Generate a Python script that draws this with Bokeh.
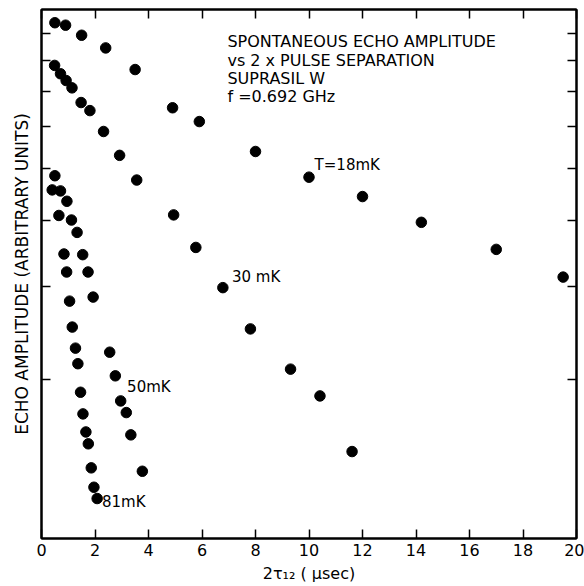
from bokeh.plotting import figure
from bokeh.models import LinearAxis, LogAxis, FixedTicker, Label, Range1d, CustomJSTickFormatter, Title
from bokeh.embed import file_html
from bokeh.resources import INLINE

# ---- data ----
t18_x = [0.5, 0.9, 1.5, 2.4, 3.5, 4.9, 5.9, 8.0, 10.0, 12.0, 14.2, 17.0, 19.5]
t18_y = [9.44, 9.34, 8.94, 8.46, 7.70, 6.52, 6.14, 5.39, 4.82, 4.43, 3.96, 3.52, 3.12]

t30_x = [0.49, 0.71, 0.92, 1.14, 1.48, 1.81, 2.32, 2.92, 3.56, 4.94, 5.77, 6.78, 7.81, 9.31, 10.41, 11.61]
t30_y = [7.84, 7.56, 7.34, 7.11, 6.67, 6.44, 5.88, 5.30, 4.76, 4.09, 3.55, 2.98, 2.49, 2.09, 1.86, 1.46]

t50_x = [0.50, 0.71, 0.95, 1.12, 1.33, 1.54, 1.74, 1.93, 2.55, 2.76, 2.96, 3.17, 3.34, 3.77]
t50_y = [4.85, 4.54, 4.34, 4.00, 3.79, 3.44, 3.19, 2.86, 2.25, 2.03, 1.82, 1.73, 1.57, 1.34]

t81_x = [0.40, 0.65, 0.84, 0.94, 1.05, 1.15, 1.27, 1.36, 1.46, 1.55, 1.66, 1.75, 1.86, 1.96, 2.08]
t81_y = [4.56, 4.08, 3.45, 3.19, 2.81, 2.51, 2.29, 2.14, 1.89, 1.72, 1.59, 1.51, 1.36, 1.25, 1.19]

x_ticks = [0, 2, 4, 6, 8, 10, 12, 14, 16, 18, 20]
y_ticks = [2, 3, 4, 5, 6, 7, 8, 9]

title_lines = ["SPONTANEOUS ECHO AMPLITUDE", "vs  2 x PULSE SEPARATION", "SUPRASIL W", "f =0.692 GHz"]
series_labels = ["T=18mK", "30 mK", "50mK", "81mK"]
x_title = "2\u03c4\u2081\u2082 ( \u03bcsec)"
y_title = "ECHO AMPLITUDE (ARBITRARY UNITS)"

FONT = "DejaVu Sans"

p = figure(width=584, height=586, output_backend="svg", toolbar_location=None,
           x_range=Range1d(0, 20), y_range=Range1d(1, 10), y_axis_type="log",
           x_axis_type=None, y_axis_location=None,
           min_border_left=41, min_border_right=8, min_border_top=9, min_border_bottom=48)
p.background_fill_color = "white"
p.border_fill_color = "white"
p.outline_line_color = "black"
p.outline_line_width = 2
p.xgrid.visible = False
p.ygrid.visible = False

blank = CustomJSTickFormatter(code="return ''")

xb = LinearAxis(ticker=FixedTicker(ticks=x_ticks), axis_label=x_title)
xt = LinearAxis(ticker=FixedTicker(ticks=x_ticks), formatter=blank)
yl = LogAxis(ticker=FixedTicker(ticks=y_ticks), formatter=blank)
yr = LogAxis(ticker=FixedTicker(ticks=y_ticks), formatter=blank)

for ax in (xb, xt, yl, yr):
    ax.major_tick_in = 9
    ax.major_tick_out = 0
    ax.minor_tick_in = 0
    ax.minor_tick_out = 0
    ax.axis_line_color = "black"
    ax.axis_line_width = 2
    ax.major_tick_line_color = "black"
    ax.major_tick_line_width = 1.5
    ax.major_label_text_font = FONT
    ax.major_label_text_color = "black"
    ax.axis_label_text_font = FONT
    ax.axis_label_text_font_style = "normal"
    ax.axis_label_text_color = "black"
    ax.axis_label_text_font_size = "16px"

xb.major_label_text_font_size = "16px"
xb.major_label_standoff = 5
xb.axis_label_standoff = 5
for ax in (xt, yl, yr):
    ax.major_label_text_font_size = "0px"
    ax.major_label_standoff = 0

p.add_layout(xb, "below")
p.add_layout(xt, "above")
p.add_layout(yl, "left")
p.add_layout(yr, "right")

# vertical axis title as a side title
ytitle = Title(text=y_title, align="center", text_font=FONT, text_font_size="17px",
               text_font_style="normal", text_color="black", standoff=19, offset=10)
p.add_layout(ytitle, "left")

for xs, ys in ((t18_x, t18_y), (t30_x, t30_y), (t50_x, t50_y), (t81_x, t81_y)):
    p.scatter(xs, ys, size=10.5, color="black", marker="circle")

# title block
title_x = 6.95
title_y = [8.70, 8.01, 7.40, 6.84]
for txt, ty in zip(title_lines, title_y):
    p.add_layout(Label(x=title_x, y=ty, text=txt, text_font=FONT, text_font_size="16px",
                       text_baseline="middle", text_align="left", text_color="black"))

label_x = [10.21, 7.12, 3.20, 2.26]
label_y = [5.09, 3.12, 1.93, 1.17]
for txt, lx, ly in zip(series_labels, label_x, label_y):
    p.add_layout(Label(x=lx, y=ly, text=txt, text_font=FONT, text_font_size="15px",
                       text_baseline="middle", text_align="left", text_color="black"))

open("out.html", "w").write(file_html(p, INLINE))
